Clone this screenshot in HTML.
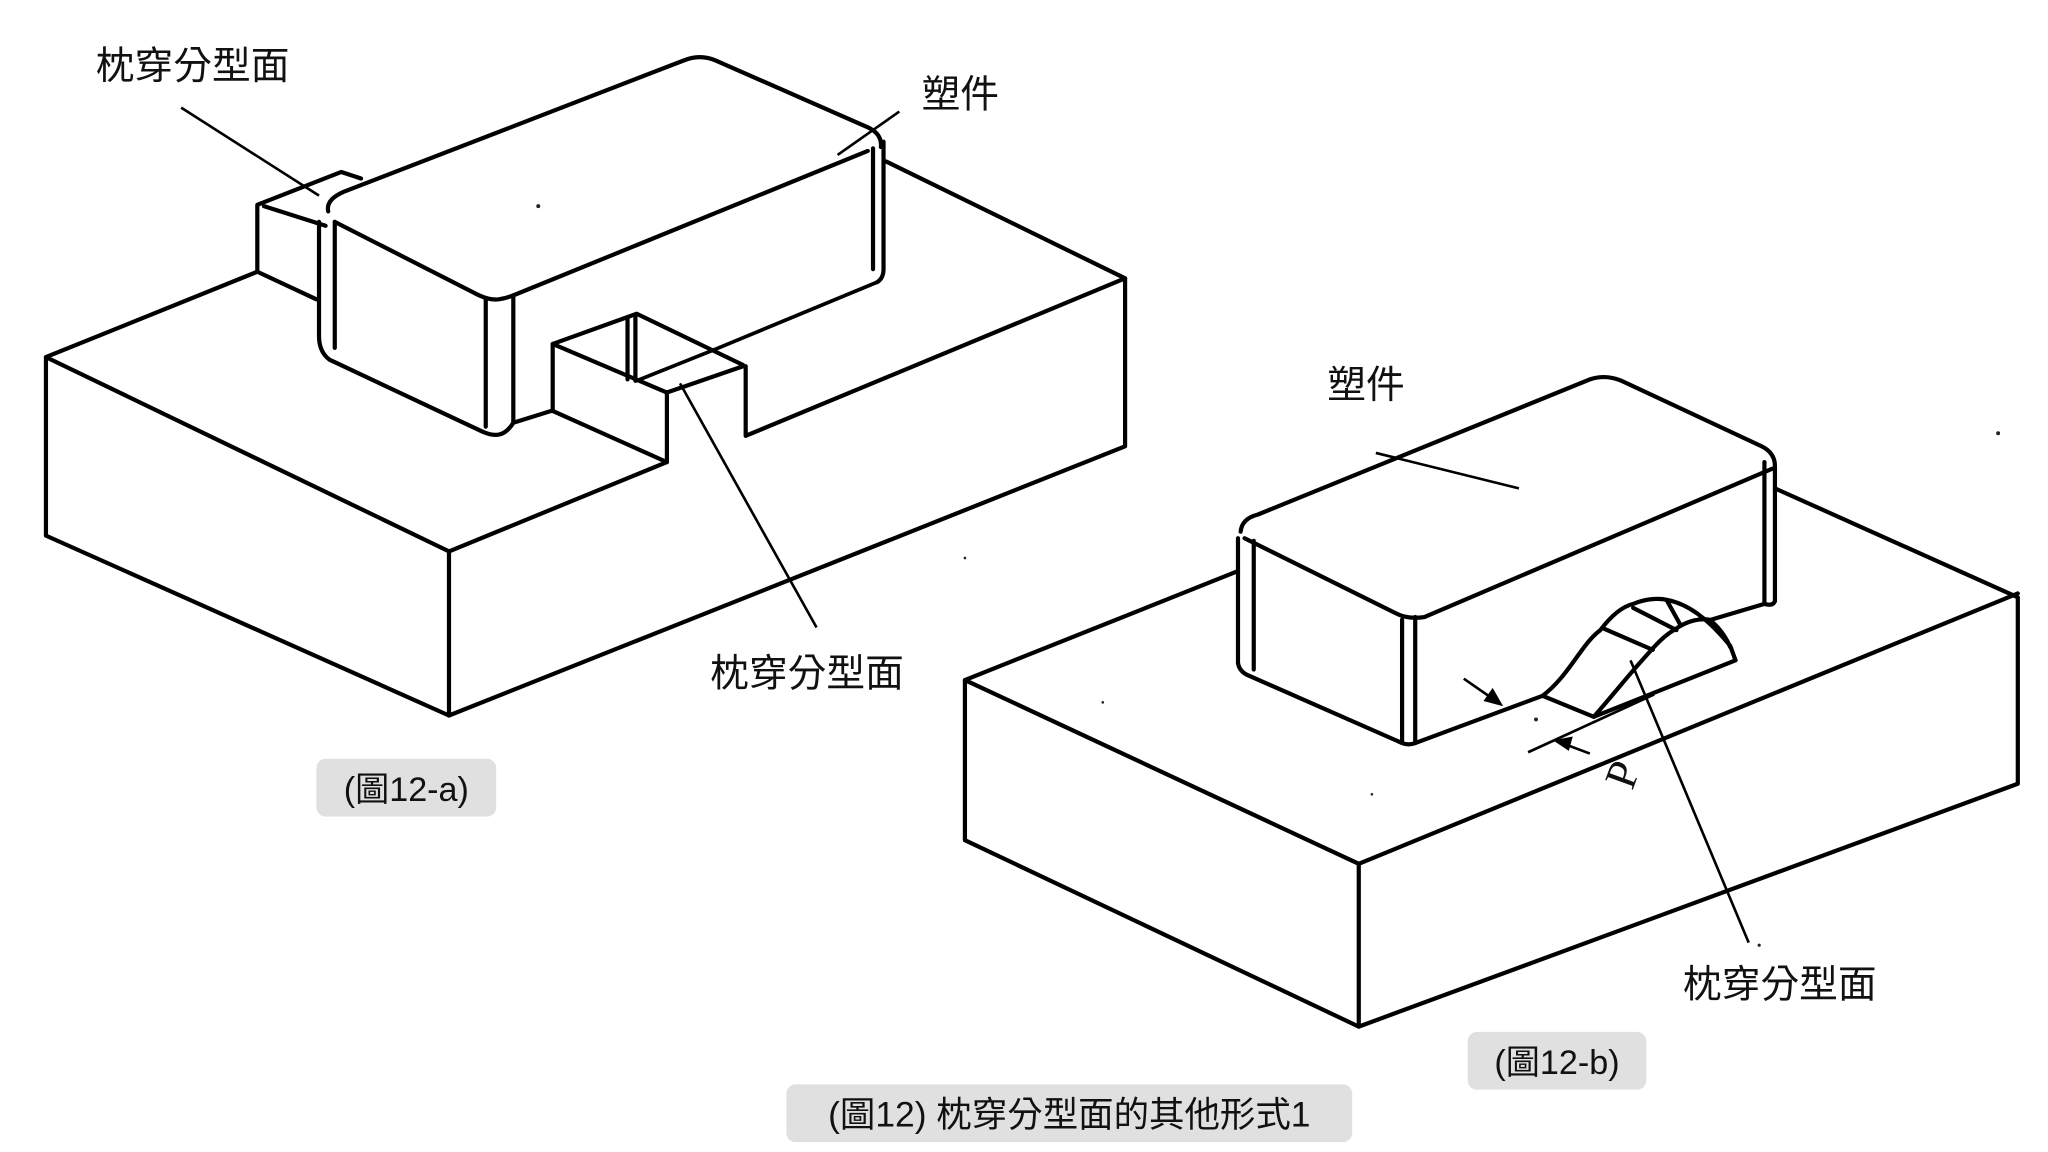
<!DOCTYPE html>
<html><head><meta charset="utf-8"><style>
html,body{margin:0;padding:0;background:#fff}
svg{display:block}
text{font-family:"Liberation Sans","Noto Sans CJK TC","Noto Sans CJK SC",sans-serif;fill:#111}
</style></head><body>
<svg width="2048" height="1152" viewBox="0 0 1560 877.5" xmlns="http://www.w3.org/2000/svg">
<rect width="1560" height="877.5" fill="#fff"/>
<g fill="none" stroke="#000" stroke-width="3.2" stroke-linejoin="round" stroke-linecap="round">
<!-- Figure a base -->
<path d="M196,207 L35,272 L35,408 L342,545 L857,340 L857,212 L675,123"/>
<path d="M35,272 L342,420 L342,545"/>
<path d="M342,420 L508,352 L508,299"/>
<path d="M568,279 L568,332 L857,212"/>
<!-- notch -->
<path d="M421,262 L485,239 L566,278"/>
<path d="M421,262 L508,299 L566,279"/>
<path d="M421,262 L421,313 L508,352"/>
<path d="M478,243 L478,289 M484,240 L484,290"/>
<path d="M485,290 L545,266 L668,215" stroke-width="2.8"/>
<!-- slider -->
<path d="M196,207 L196,156 L260,131 L275,136"/>
<path d="M201,157 L248,172"/>
<path d="M196,207 L241,228"/>
<!-- plastic a -->
<path d="M250,161 Q248,152 262,146 L521,46 Q533,41 545,46 L661,97 Q672,102 671,112"/>
<path d="M255,169 L361,223 Q372,229 380,228 Q386,227 391,225 L661,115"/>
<path d="M243,169 L243,256 Q243,268 251,274 L368,329 Q375,332 380,331 Q386,330 391,322 L420,313"/>
<path d="M255,169 L255,265"/>
<path d="M370,228 L370,325 M391,225 L391,322"/>
<path d="M665,113 L665,205 M673,108 L673,205 Q673,212 668,215"/>
</g>
<!-- leaders a -->
<g stroke="#000" stroke-width="2" fill="none">
<line x1="138" y1="82" x2="243" y2="149"/>
<line x1="638" y1="118" x2="685" y2="85"/>
<line x1="518" y1="292" x2="622" y2="478"/>
</g>
<!-- Figure b -->
<g fill="none" stroke="#000" stroke-width="3.2" stroke-linejoin="round" stroke-linecap="round">
<path d="M943,435 L735,518 L735,640 L1035,782 L1537,597 L1537,455 L1352,372"/>
<path d="M735,518 L1035,658 L1035,782"/>
<path d="M1035,658 L1537,452"/>
<!-- plastic b -->
<path d="M945,405 Q946,395 958,392 L1211,289 Q1223,285 1235,290 L1342,340 Q1352,345 1352,355"/>
<path d="M948,410 L1063,467 Q1072,472 1085,470 L1350,357"/>
<path d="M943,410 L943,505 Q944,512 952,515 L1068,566 Q1073,568 1078,566 L1175,530"/>
<path d="M955,412 L955,510"/>
<path d="M1068,472 L1068,565 M1078,470 L1078,566"/>
<path d="M1344,352 L1344,460 M1352,355 L1352,458 Q1350,462 1344,460 L1300,473"/>
<!-- arch -->
<path d="M1175,530 C1195,515 1205,490 1219,480 C1228,468 1236,462 1244,460 C1256,455 1266,456 1270,457 C1285,460 1300,470 1318,492 L1322,503 L1214,546 L1175,530"/>
<path d="M1214,546 C1228,530 1240,515 1249,505 C1258,495 1266,485 1275,480 C1286,472 1296,471 1302,472 C1310,478 1315,486 1318,493"/>
<path d="M1222,479 L1259,495 M1244,463 L1277,480 M1270,458 L1280,476"/>
</g>
<g stroke="#000" stroke-width="2" fill="none">
<line x1="1164" y1="573" x2="1260" y2="529"/>
<line x1="1115" y1="517" x2="1141" y2="535"/>
<line x1="1211" y1="574" x2="1187" y2="565"/>
<line x1="1048" y1="345" x2="1157" y2="372"/>
<line x1="1242" y1="503" x2="1332" y2="718"/>
</g>
<polygon points="1145,538 1130,534 1137,524" fill="#000"/>
<polygon points="1183,564 1198,561 1195,572" fill="#000"/>
<text x="1226" y="598" transform="rotate(-70 1238 588)" style="font-family:'Liberation Serif',serif;font-size:34px">P</text>
<!-- specks -->
<g fill="#222">
<circle cx="410" cy="157" r="1.5"/><circle cx="1522" cy="330" r="1.5"/><circle cx="735" cy="425" r="1"/>
<circle cx="840" cy="535" r="1"/><circle cx="1170" cy="548" r="1.5"/><circle cx="1045" cy="605" r="1"/>
<circle cx="1340" cy="720" r="1.2"/>
</g>
<!-- labels -->
<g font-size="29.5">
<text x="73" y="60">枕穿分型面</text>
<text x="702" y="82">塑件</text>
<text x="541" y="523">枕穿分型面</text>
<text x="1011" y="303">塑件</text>
<text x="1282" y="760">枕穿分型面</text>
</g>
<!-- captions -->
<rect x="241" y="578" width="137" height="44" rx="7" fill="#e0e0e0"/>
<text x="309.5" y="610" font-size="26" text-anchor="middle">(圖12-a)</text>
<rect x="1118" y="786" width="136" height="44" rx="7" fill="#e0e0e0"/>
<text x="1186" y="818" font-size="26" text-anchor="middle">(圖12-b)</text>
<rect x="599" y="826" width="431" height="44" rx="7" fill="#e0e0e0"/>
<text x="814.5" y="858" font-size="27" text-anchor="middle">(圖12) 枕穿分型面的其他形式1</text>
</svg>
</body></html>
